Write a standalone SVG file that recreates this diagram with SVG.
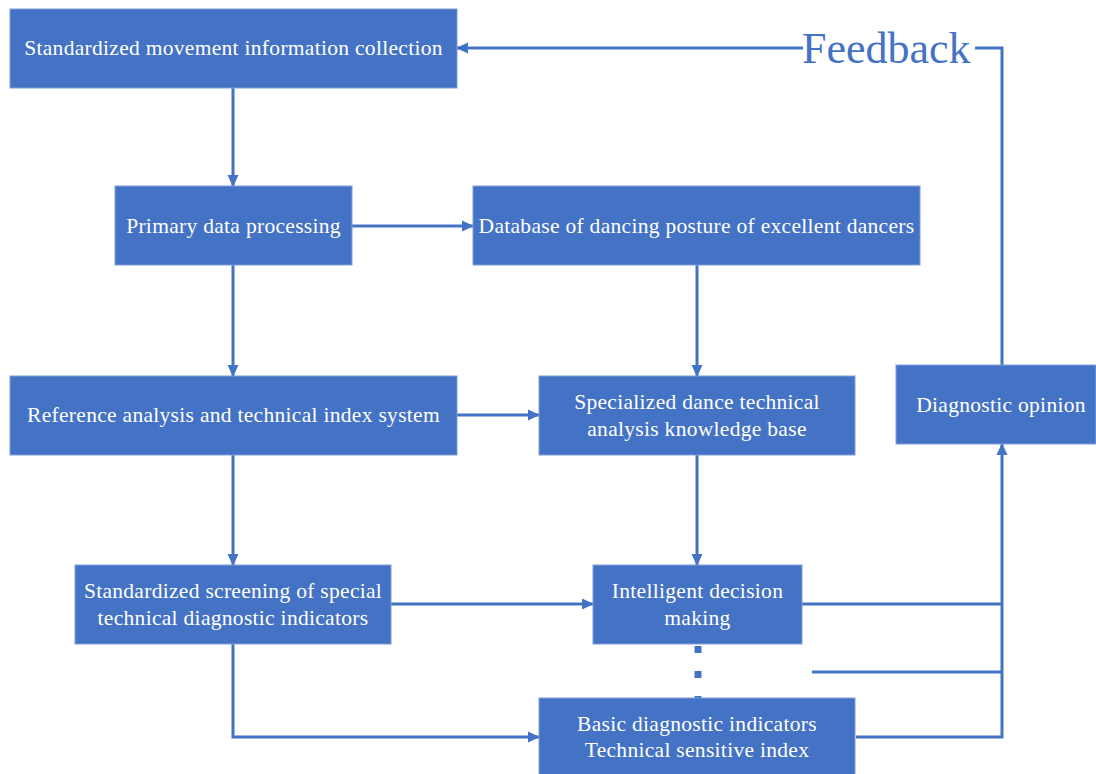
<svg xmlns="http://www.w3.org/2000/svg" width="1096" height="774" viewBox="0 0 1096 774">
<style>
.box{fill:#4472C4;stroke:#7F9FD9;stroke-width:1}
.t{fill:#ffffff;font-family:'Liberation Serif',Tinos,'DejaVu Serif',serif;font-size:21.5px;text-anchor:middle;letter-spacing:0.3px}
.c{fill:none;stroke:#4472C4;stroke-width:3}
.fb{fill:#4472C4;font-family:'Liberation Serif',Tinos,'DejaVu Serif',serif;font-size:44px}
</style>
<defs>
<marker id="ah" markerUnits="userSpaceOnUse" markerWidth="12" markerHeight="12" viewBox="0 0 12 12" refX="11" refY="6" orient="auto">
<path d="M0,0.5 L12,6 L0,11.5 Z" fill="#4472C4"/>
</marker>
</defs>
<rect width="1096" height="774" fill="#ffffff"/>
<g id="connectors">
<line class="c" x1="233" y1="88" x2="233" y2="186" marker-end="url(#ah)"/>
<line class="c" x1="352" y1="226" x2="473" y2="226" marker-end="url(#ah)"/>
<line class="c" x1="233" y1="265" x2="233" y2="376" marker-end="url(#ah)"/>
<line class="c" x1="697" y1="265" x2="697" y2="376" marker-end="url(#ah)"/>
<line class="c" x1="457" y1="415" x2="539" y2="415" marker-end="url(#ah)"/>
<line class="c" x1="233" y1="455" x2="233" y2="565" marker-end="url(#ah)"/>
<line class="c" x1="697" y1="455" x2="697" y2="565" marker-end="url(#ah)"/>
<line class="c" x1="391" y1="604" x2="593" y2="604" marker-end="url(#ah)"/>
<polyline class="c" points="233,644 233,737 539,737" marker-end="url(#ah)"/>
<line class="c" x1="802" y1="604" x2="1002" y2="604"/>
<line class="c" x1="812" y1="672" x2="1002" y2="672"/>
<polyline class="c" points="856,737 1002,737 1002,444" marker-end="url(#ah)"/>
<polyline class="c" points="1002,365 1002,48 975,48"/>
<line class="c" x1="803" y1="48" x2="457" y2="48" marker-end="url(#ah)"/>
<line x1="698" y1="646" x2="698" y2="698" stroke="#4472C4" stroke-width="7" stroke-dasharray="7 18"/>
<text class="fb" x="802" y="63">Feedback</text>
</g>
<g id="n1"><rect class="box" x="10" y="9" width="447" height="79"/><text class="t" x="233.5" y="55">Standardized movement information collection</text></g>
<g id="n2"><rect class="box" x="115" y="186" width="237" height="79"/><text class="t" x="233.5" y="233">Primary data processing</text></g>
<g id="n3"><rect class="box" x="473" y="186" width="447" height="79"/><text class="t" x="696.5" y="233">Database of dancing posture of excellent dancers</text></g>
<g id="n4"><rect class="box" x="10" y="376" width="447" height="79"/><text class="t" x="233.5" y="422">Reference analysis and technical index system</text></g>
<g id="n5"><rect class="box" x="539" y="376" width="316" height="79"/><text class="t" x="697" y="409">Specialized dance technical</text><text class="t" x="697" y="436">analysis knowledge base</text></g>
<g id="n6"><rect class="box" x="896" y="365" width="200" height="79"/><text class="t" x="1001" y="412">Diagnostic opinion</text></g>
<g id="n7"><rect class="box" x="75" y="565" width="316" height="79"/><text class="t" x="233" y="598">Standardized screening of special</text><text class="t" x="233" y="625">technical diagnostic indicators</text></g>
<g id="n8"><rect class="box" x="593" y="565" width="209" height="79"/><text class="t" x="697.5" y="598">Intelligent decision</text><text class="t" x="697.5" y="625">making</text></g>
<g id="n9"><rect class="box" x="539" y="698" width="316" height="80"/><text class="t" x="697" y="731">Basic diagnostic indicators</text><text class="t" x="697" y="757">Technical sensitive index</text></g>
</svg>
